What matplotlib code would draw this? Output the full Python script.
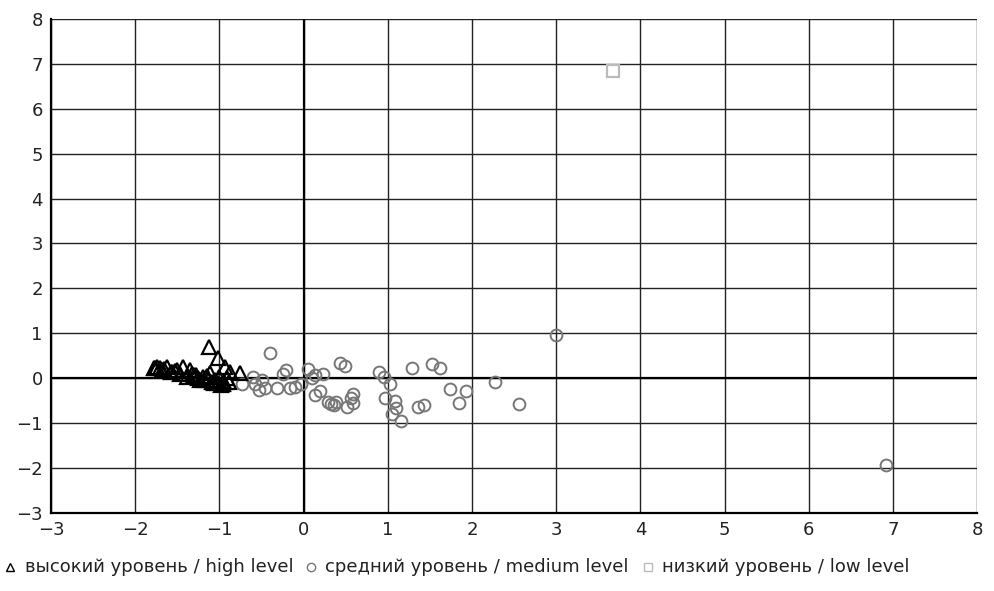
import matplotlib
matplotlib.use('Agg')
import matplotlib.pyplot as plt
from matplotlib.lines import Line2D

plt.rcParams['font.family'] = ['DejaVu Sans']

# high level (triangles)
high_x = [-1.78, -1.76, -1.74, -1.70, -1.66, -1.62, -1.58, -1.56, -1.50, -1.47,
          -1.43, -1.39, -1.35, -1.30, -1.26, -1.23, -1.18, -1.14, -1.11, -1.09,
          -1.06, -1.02, -1.00, -0.98, -0.96, -0.93, -0.91, -0.89, -0.87, -0.76,
          -1.12, -1.02, -1.32, -1.20, -1.15, -1.05, -0.94, -1.28, -1.68, -1.53]
high_y = [0.22, 0.23, 0.24, 0.22, 0.20, 0.24, 0.15, 0.13, 0.18, 0.10,
          0.25, 0.02, 0.18, 0.07, 0.00, -0.04, -0.03, -0.04, 0.11, -0.08,
          -0.10, -0.11, 0.02, -0.14, -0.12, 0.25, 0.00, -0.09, 0.13, 0.12,
          0.69, 0.45, 0.10, 0.03, 0.05, -0.05, -0.08, 0.08, 0.18, 0.16]

# medium level (circles)
med_x = [-0.73, -0.60, -0.58, -0.50, -0.53, -0.46, -0.40, -0.32, -0.24, -0.21,
         -0.16, -0.10, -0.03, 0.05, 0.10, 0.14, 0.23, 0.14, 0.20, 0.29,
         0.33, 0.36, 0.38, 0.43, 0.49, 0.51, 0.56, 0.59, 0.59, 0.89,
         0.96, 1.03, 0.97, 1.08, 1.10, 1.05, 1.16, 1.29, 1.36, 1.43,
         1.52, 1.62, 1.74, 1.84, 1.93, 2.27, 2.56, 3.00, 6.92]
med_y = [-0.12, 0.03, -0.12, -0.04, -0.27, -0.21, 0.57, -0.22, 0.10, 0.18,
         -0.22, -0.19, -0.12, 0.20, 0.01, 0.08, 0.10, -0.38, -0.28, -0.53,
         -0.57, -0.60, -0.53, 0.34, 0.27, -0.65, -0.45, -0.36, -0.55, 0.14,
         0.02, -0.12, -0.45, -0.50, -0.66, -0.80, -0.96, 0.23, -0.65, -0.60,
         0.32, 0.22, -0.23, -0.55, -0.29, -0.08, -0.58, 0.97, -1.93]

# low level (squares)
low_x = [3.68]
low_y = [6.83]

labels = ['высокий уровень / high level',
          'средний уровень / medium level',
          'низкий уровень / low level']

fig = plt.figure(figsize=(9.95, 5.91), dpi=100)
ax = fig.add_axes([0.0513, 0.132, 0.9307, 0.836])

ax.set_xlim(-3, 8)
ax.set_ylim(-3, 8)
ax.set_xticks(range(-3, 9))
ax.set_yticks(range(-3, 9))
ax.grid(True, color='#222222', linewidth=1.0)
ax.set_axisbelow(True)
ax.axhline(0, color='black', linewidth=1.6, zorder=1)
ax.axvline(0, color='black', linewidth=1.6, zorder=1)
for side in ['top', 'right']:
    ax.spines[side].set_visible(False)
for side in ['left', 'bottom']:
    ax.spines[side].set_linewidth(1.6)
    ax.spines[side].set_color('black')
ax.tick_params(length=0, labelsize=13, pad=6, colors='#222222')

ax.plot(med_x, med_y, 'o', markersize=8.5, markerfacecolor='none',
        markeredgecolor='#777777', markeredgewidth=1.4, zorder=3)
ax.plot(high_x, high_y, '^', markersize=9.5, markerfacecolor='none',
        markeredgecolor='black', markeredgewidth=1.6, zorder=4)
ax.plot(low_x, low_y, 's', markersize=8.5, markerfacecolor='none',
        markeredgecolor='#bbbbbb', markeredgewidth=1.6, zorder=3)

# legend row under the plot
ly = 1 - 567 / 591
items = [('^', 'black', 10, 25), ('o', '#777777', 311, 325), ('s', '#bbbbbb', 648, 662)]
for (mk, col, mx, tx), lab in zip(items, labels):
    fig.add_artist(Line2D([mx / 995], [ly], marker=mk, markersize=6,
                          markerfacecolor='none', markeredgecolor=col,
                          markeredgewidth=1.0, linestyle='none'))
    fig.text(tx / 995, ly, lab, fontsize=13, va='center', ha='left', color='#222222')

fig.savefig('out.png', dpi=100)
